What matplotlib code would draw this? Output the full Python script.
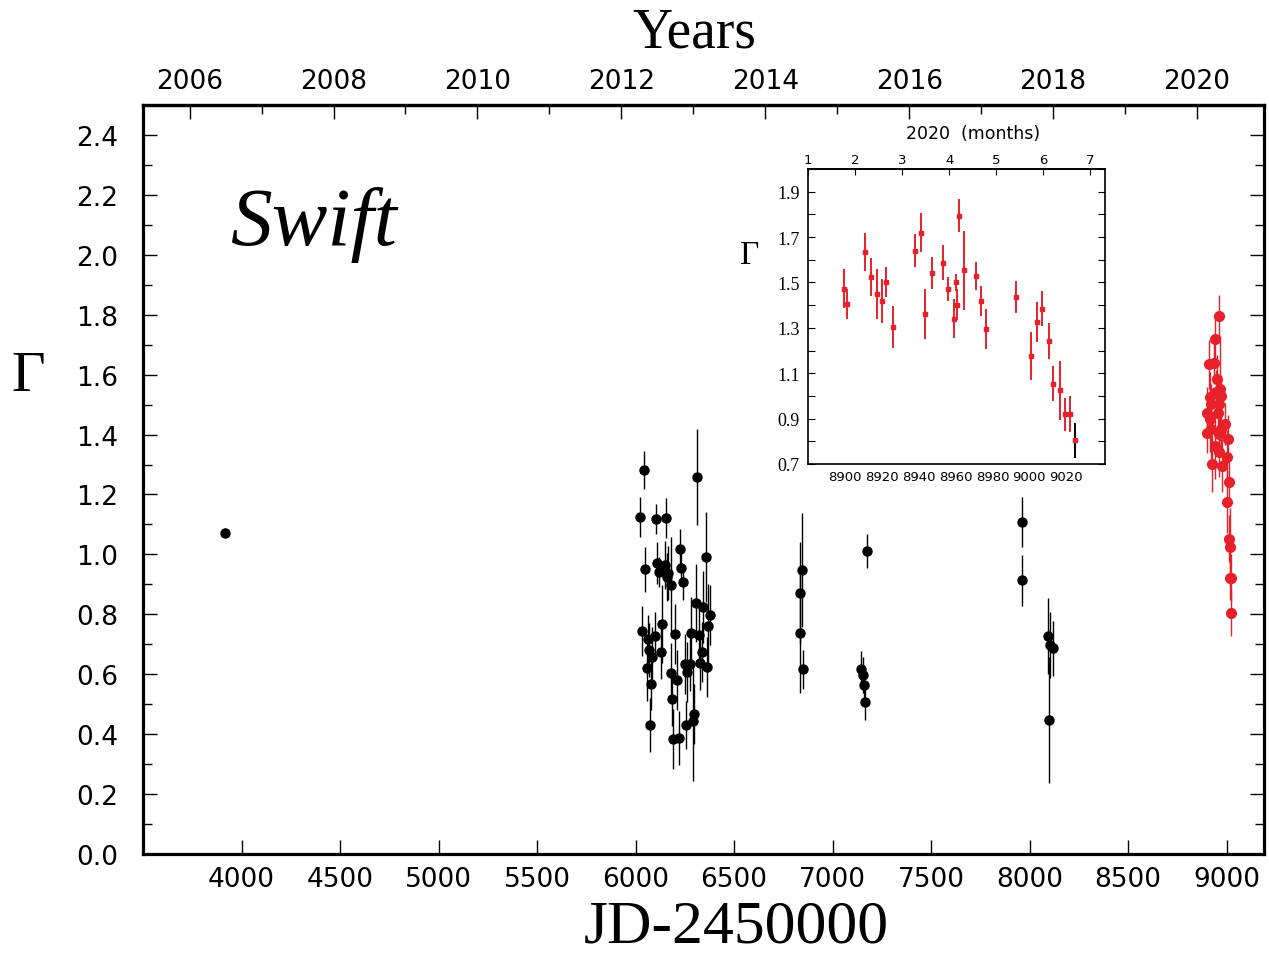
import matplotlib
matplotlib.use('Agg')
import matplotlib.pyplot as plt
from matplotlib.ticker import MultipleLocator, FixedLocator

# Swift photon index, black points (JD-2450000, Gamma, error)
jd_black = [3914, 6045, 6025, 6104, 6153, 6314, 6049, 6111, 6121, 6150,
            6167, 6162, 6179, 6226, 6233, 6241, 6358, 6032, 6062, 6098,
            6066, 6086, 6057, 6079, 6074, 6135, 6128, 6202, 6182, 6209,
            6184, 6189, 6219, 6306, 6344, 6378, 6368, 6280, 6321, 6338,
            6329, 6361, 6253, 6279, 6263, 6295, 6292, 6257,
            6843, 6836, 6833, 6850, 7173, 7142, 7156, 7159, 7166,
            7964, 7960, 8092, 8104, 8118, 8099]
gam_black = [1.072, 1.282, 1.125, 1.119, 1.121, 1.257, 0.950, 0.972, 0.941, 0.966,
             0.939, 0.925, 0.899, 1.019, 0.956, 0.908, 0.990, 0.745, 0.719, 0.728,
             0.680, 0.657, 0.621, 0.569, 0.430, 0.768, 0.675, 0.733, 0.604, 0.581,
             0.516, 0.383, 0.388, 0.838, 0.824, 0.798, 0.762, 0.738, 0.730, 0.675,
             0.638, 0.625, 0.634, 0.634, 0.606, 0.467, 0.443, 0.430,
             0.947, 0.871, 0.738, 0.617, 1.010, 0.616, 0.599, 0.563, 0.506,
             1.109, 0.913, 0.728, 0.699, 0.686, 0.447]
err_black = [0.015, 0.063, 0.067, 0.05, 0.067, 0.16, 0.076, 0.07, 0.05, 0.08,
             0.09, 0.08, 0.16, 0.065, 0.06, 0.06, 0.15, 0.083, 0.08, 0.08,
             0.09, 0.10, 0.11, 0.09, 0.09, 0.13, 0.09, 0.10, 0.10, 0.10,
             0.09, 0.10, 0.09, 0.13, 0.12, 0.10, 0.14, 0.12, 0.10, 0.10,
             0.09, 0.10, 0.10, 0.09, 0.10, 0.10, 0.20, 0.08,
             0.19, 0.17, 0.20, 0.065, 0.057, 0.06, 0.06, 0.06, 0.06,
             0.083, 0.085, 0.126, 0.11, 0.093, 0.21]

# 2020 points (red)
jd_red = [8899.3, 8901.4, 8910.9, 8914.3, 8917.4, 8919.9, 8922.4, 8926.1,
          8938.2, 8941.5, 8943.6, 8947.1, 8953.2, 8955.9, 8959.2, 8960.5,
          8960.6, 8961.7, 8964.8, 8970.8, 8973.8, 8976.7, 8992.5, 9001.0,
          9004.4, 9007.1, 9010.6, 9012.9, 9016.4, 9019.3, 9022.2, 9024.7]
gam_red = [1.473, 1.404, 1.634, 1.524, 1.451, 1.417, 1.502, 1.303,
           1.640, 1.720, 1.363, 1.543, 1.587, 1.473, 1.341, 1.501,
           1.402, 1.795, 1.553, 1.528, 1.419, 1.296, 1.435, 1.176,
           1.326, 1.385, 1.242, 1.053, 1.024, 0.920, 0.920, 0.804]
err_red = [0.086, 0.065, 0.083, 0.084, 0.11, 0.097, 0.066, 0.094,
           0.072, 0.084, 0.11, 0.071, 0.077, 0.053, 0.084, 0.037,
           0.068, 0.072, 0.175, 0.062, 0.066, 0.089, 0.071, 0.104,
           0.088, 0.079, 0.078, 0.077, 0.13, 0.073, 0.080, 0.078]

jd_ticks = [4000, 4500, 5000, 5500, 6000, 6500, 7000, 7500, 8000, 8500, 9000]
year_ticks = [2006, 2008, 2010, 2012, 2014, 2016, 2018, 2020]
inset_jd_ticks = [8900, 8920, 8940, 8960, 8980, 9000, 9020]
inset_gam_ticks = [0.7, 0.9, 1.1, 1.3, 1.5, 1.7, 1.9]
month_ticks = [1, 2, 3, 4, 5, 6, 7]


def jd_to_year(jd):
    return 2006 + (jd - 3736.5) / 365.25


def year_to_jd(y):
    return 3736.5 + (y - 2006) * 365.25


def jd_to_month(jd):
    return 1 + (jd - 8880) / 25.5


def month_to_jd(m):
    return 8880 + (m - 1) * 25.5


sans = 'DejaVu Sans'
serif = 'Liberation Serif'

fig = plt.figure(figsize=(12.69, 9.54), dpi=100)
ax = fig.add_axes([143 / 1269, 1 - 855 / 954, 1121 / 1269, 749 / 954])

ax.errorbar(jd_black, gam_black, yerr=err_black, fmt='o', color='black',
            ms=6.5, elinewidth=1.0, capsize=0, zorder=3)
ax.errorbar(jd_red, gam_red, yerr=err_red, fmt='o', color='#e8202a',
            ms=7, elinewidth=1.0, ecolor='#e8202a', capsize=0, zorder=4)

ax.set_xlim(3500, 9190)
ax.set_ylim(0, 2.5)
ax.xaxis.set_major_locator(FixedLocator(jd_ticks))
ax.yaxis.set_major_locator(MultipleLocator(0.2))
ax.yaxis.set_minor_locator(MultipleLocator(0.1))
ax.yaxis.set_major_formatter(lambda v, p: '%.1f' % v)
ax.tick_params(axis='x', which='major', direction='in', length=10, width=1,
               top=False, labelsize=19, pad=9)
ax.tick_params(axis='y', which='major', direction='in', length=10, width=1,
               right=True, labelsize=19, pad=18)
ax.tick_params(axis='y', which='minor', direction='in', length=6.5, width=1,
               right=True)
for lab in ax.get_xticklabels() + ax.get_yticklabels():
    lab.set_fontfamily(sans)
for s in ax.spines.values():
    s.set_linewidth(2.3)

sec = ax.secondary_xaxis('top', functions=(jd_to_year, year_to_jd))
sec.xaxis.set_major_locator(FixedLocator(year_ticks))
sec.xaxis.set_minor_locator(MultipleLocator(1))
sec.tick_params(which='major', direction='in', length=10, width=1,
                labelsize=19, pad=8)
sec.tick_params(which='minor', direction='in', length=6.5, width=1)
for lab in sec.get_xticklabels():
    lab.set_fontfamily(sans)
sec.spines['top'].set_linewidth(2.3)

fig.text(736 / 1269, 1 - 928 / 954, 'JD-2450000', ha='center', va='center',
         fontsize=44.5, family=serif)
fig.text(694 / 1269, 1 - 34 / 954, 'Years', ha='center', va='center',
         fontsize=40, family=serif)
fig.text(28 / 1269, 1 - 377 / 954, 'Γ', ha='center', va='center',
         fontsize=42, family=serif)
fig.text(230 / 1269, 1 - 245 / 954, 'Swift', ha='left', va='baseline',
         fontsize=60, family=serif, style='italic')

# inset
ins = fig.add_axes([808 / 1269, 1 - 465 / 954, 297 / 1269, 295 / 954])
ins.errorbar(jd_red[:-1], gam_red[:-1], yerr=err_red[:-1], fmt='s',
             color='#e8202a', ms=3, elinewidth=1.4, capsize=0)
ins.errorbar(jd_red[-1:], gam_red[-1:], yerr=err_red[-1:], fmt='s',
             color='#e8202a', ecolor='black', ms=3, elinewidth=1.4, capsize=0)
ins.set_xlim(8880, 9041)
ins.set_ylim(0.7, 2.0)
ins.xaxis.set_major_locator(FixedLocator(inset_jd_ticks))
ins.xaxis.set_major_formatter(lambda v, p: '%d' % v)
ins.yaxis.set_major_locator(FixedLocator(inset_gam_ticks))
ins.yaxis.set_minor_locator(MultipleLocator(0.1))
ins.yaxis.set_major_formatter(lambda v, p: '%.1f' % v)
ins.tick_params(axis='x', direction='in', length=0, labelsize=9.5, pad=4)
ins.tick_params(axis='y', which='both', direction='in', length=5, width=0.8,
                right=True, labelsize=13, pad=6)
for lab in ins.get_xticklabels():
    lab.set_fontfamily(sans)
for lab in ins.get_yticklabels():
    lab.set_fontfamily(serif)
for s in ins.spines.values():
    s.set_linewidth(1.2)

msec = ins.secondary_xaxis('top', functions=(jd_to_month, month_to_jd))
msec.xaxis.set_major_locator(FixedLocator(month_ticks))
msec.xaxis.set_major_formatter(lambda v, p: '%d' % v)
msec.tick_params(direction='in', length=4, width=0.8, labelsize=9.5, pad=2)
for lab in msec.get_xticklabels():
    lab.set_fontfamily(sans)
msec.spines['top'].set_linewidth(1.2)

fig.text(973 / 1269, 1 - 134 / 954, '2020  (months)', ha='center', va='center',
         fontsize=12.5, family=sans)
fig.text(750 / 1269, 1 - 256 / 954, 'Γ', ha='center', va='center',
         fontsize=24, family=serif)

fig.savefig('out.png', dpi=100)
